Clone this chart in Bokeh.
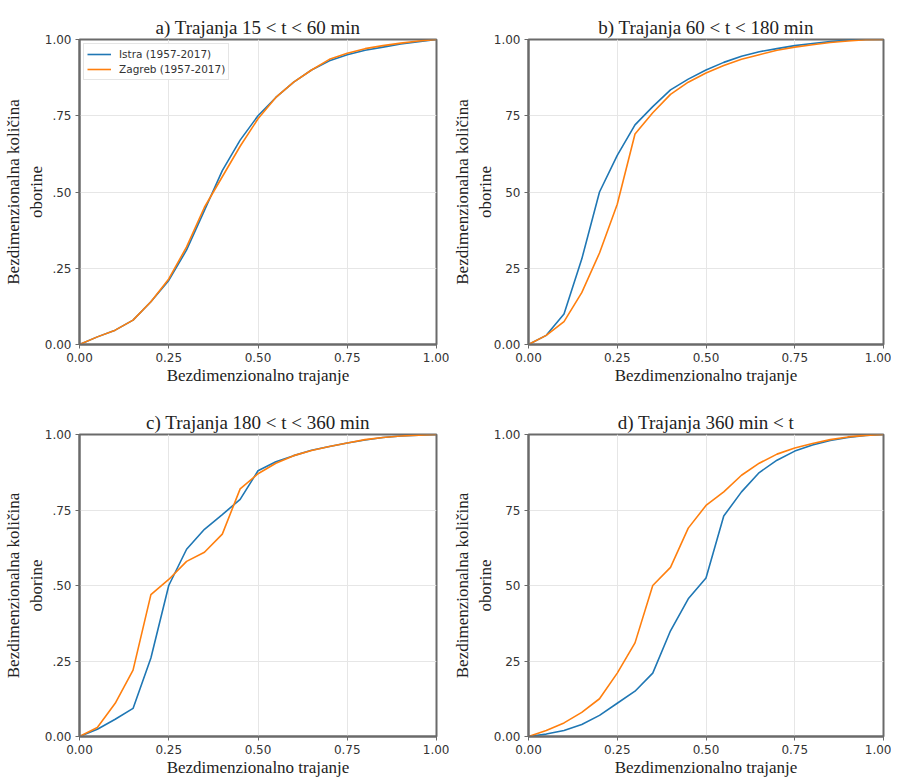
from bokeh.plotting import figure
from bokeh.layouts import column, row
from bokeh.models import FixedTicker, NumeralTickFormatter, Range1d, Legend, LegendItem
from bokeh.embed import file_html
from bokeh.resources import INLINE

x = [0.0, 0.05, 0.1, 0.15, 0.2, 0.25, 0.3, 0.35, 0.4, 0.45, 0.5,
     0.55, 0.6, 0.65, 0.7, 0.75, 0.8, 0.85, 0.9, 0.95, 1.0]

istra_a = [0, 0.025, 0.047, 0.08, 0.14, 0.21, 0.31, 0.44, 0.57, 0.67, 0.75,
           0.81, 0.86, 0.90, 0.93, 0.95, 0.965, 0.975, 0.985, 0.993, 1.0]
zagreb_a = [0, 0.025, 0.047, 0.08, 0.14, 0.215, 0.32, 0.45, 0.55, 0.65, 0.74,
            0.81, 0.86, 0.90, 0.935, 0.955, 0.97, 0.98, 0.988, 0.995, 1.0]

istra_b = [0, 0.03, 0.10, 0.28, 0.50, 0.62, 0.72, 0.78, 0.835, 0.87, 0.90,
           0.925, 0.945, 0.96, 0.97, 0.98, 0.987, 0.993, 0.998, 1.0, 1.0]
zagreb_b = [0, 0.03, 0.075, 0.17, 0.30, 0.46, 0.69, 0.76, 0.82, 0.86, 0.89,
            0.915, 0.935, 0.95, 0.965, 0.975, 0.983, 0.99, 0.995, 0.999, 1.0]

istra_c = [0, 0.024, 0.057, 0.093, 0.26, 0.50, 0.62, 0.686, 0.735, 0.785, 0.88,
           0.91, 0.93, 0.948, 0.96, 0.972, 0.982, 0.99, 0.995, 0.998, 1.0]
zagreb_c = [0, 0.03, 0.11, 0.22, 0.47, 0.52, 0.58, 0.61, 0.67, 0.82, 0.87,
            0.905, 0.93, 0.947, 0.96, 0.972, 0.983, 0.99, 0.995, 0.998, 1.0]

istra_d = [0, 0.008, 0.02, 0.04, 0.07, 0.11, 0.15, 0.21, 0.35, 0.456, 0.525,
           0.73, 0.81, 0.874, 0.915, 0.945, 0.965, 0.98, 0.99, 0.997, 1.0]
zagreb_d = [0, 0.02, 0.045, 0.08, 0.125, 0.21, 0.31, 0.50, 0.56, 0.69, 0.765,
            0.81, 0.865, 0.905, 0.935, 0.955, 0.97, 0.983, 0.992, 0.997, 1.0]

titles = ["a) Trajanja 15 < t < 60 min", "b) Trajanja 60 < t < 180 min",
          "c) Trajanja 180 < t < 360 min", "d) Trajanja 360 min < t"]
series_names = ["Istra (1957-2017)", "Zagreb (1957-2017)"]
ticks = [0, 0.25, 0.5, 0.75, 1.0]
ylab_short_ab = {0.25: ".25", 0.5: ".50", 0.75: ".75"}
ylab_short_bd = {0.25: "25", 0.5: "50", 0.75: "75"}
xlabel = "Bezdimenzionalno trajanje"
ylabel = "Bezdimenzionalna količina\noborine"

BLUE = "#1f77b4"
ORANGE = "#ff7f0e"
SERIF = "Liberation Serif"
SANS = "DejaVu Sans"
SPINE = "#6a6a6a"


def make_panel(title, ist, zag, overrides, top, bottom, left, right, legend=False):
    p = figure(width=left + 359 + right, height=top + 305 + bottom,
               output_backend="svg", toolbar_location=None,
               x_range=Range1d(0, 1), y_range=Range1d(0, 1),
               min_border_left=left, min_border_right=right,
               min_border_top=top, min_border_bottom=bottom)
    p.title.text = title
    p.title.align = "center"
    p.title.text_font = SERIF
    p.title.text_font_size = "19px"
    p.title.text_font_style = "normal"
    p.title.text_color = "#222222"
    p.title.standoff = 4

    r1 = p.line(x, ist, line_color=BLUE, line_width=1.6)
    r2 = p.line(x, zag, line_color=ORANGE, line_width=1.6)

    for ax in (p.xaxis[0], p.yaxis[0]):
        ax.ticker = FixedTicker(ticks=ticks)
        ax.formatter = NumeralTickFormatter(format="0.00")
        ax.axis_line_color = SPINE
        ax.axis_line_width = 2
        ax.major_tick_line_color = SPINE
        ax.major_tick_in = 0
        ax.major_tick_out = 4
        ax.minor_tick_line_color = None
        ax.major_label_text_font = SANS
        ax.major_label_text_font_size = "12px"
        ax.major_label_text_color = "#333333"
        ax.major_label_standoff = 4
        ax.axis_label_text_font = SERIF
        ax.axis_label_text_font_size = "17px"
        ax.axis_label_text_font_style = "normal"
        ax.axis_label_text_color = "#222222"
    p.yaxis[0].major_label_overrides = overrides
    p.xaxis[0].axis_label = xlabel
    p.xaxis[0].axis_label_standoff = 1
    p.yaxis[0].axis_label = ylabel
    p.yaxis[0].axis_label_standoff = -4

    p.outline_line_color = SPINE
    p.outline_line_width = 2
    p.outline_line_alpha = 1.0
    p.grid.grid_line_color = "#e6e6e6"
    p.grid.grid_line_width = 1
    p.background_fill_color = "white"
    p.border_fill_color = "white"

    if legend:
        leg = Legend(items=[LegendItem(label=series_names[0], renderers=[r1]),
                            LegendItem(label=series_names[1], renderers=[r2])],
                     location="top_left")
        leg.label_text_font = SANS
        leg.label_text_font_size = "10.5px"
        leg.label_text_color = "#333333"
        leg.glyph_width = 24
        leg.glyph_height = 14
        leg.label_height = 14
        leg.label_standoff = 8
        leg.spacing = 1
        leg.padding = 3
        leg.margin = 4
        leg.border_line_color = "#cccccc"
        leg.border_line_width = 1
        leg.background_fill_alpha = 0.9
        p.add_layout(leg)
    return p


pa = make_panel(titles[0], istra_a, zagreb_a, ylab_short_ab, 39, 54, 77, 13, legend=True)
pb = make_panel(titles[1], istra_b, zagreb_b, ylab_short_bd, 39, 54, 75, 8)
pc = make_panel(titles[2], istra_c, zagreb_c, ylab_short_ab, 36, 40, 77, 13)
pd = make_panel(titles[3], istra_d, zagreb_d, ylab_short_bd, 36, 40, 75, 8)

layout = column(row(pa, pb), row(pc, pd))
open("out.html", "w").write(file_html(layout, INLINE))
